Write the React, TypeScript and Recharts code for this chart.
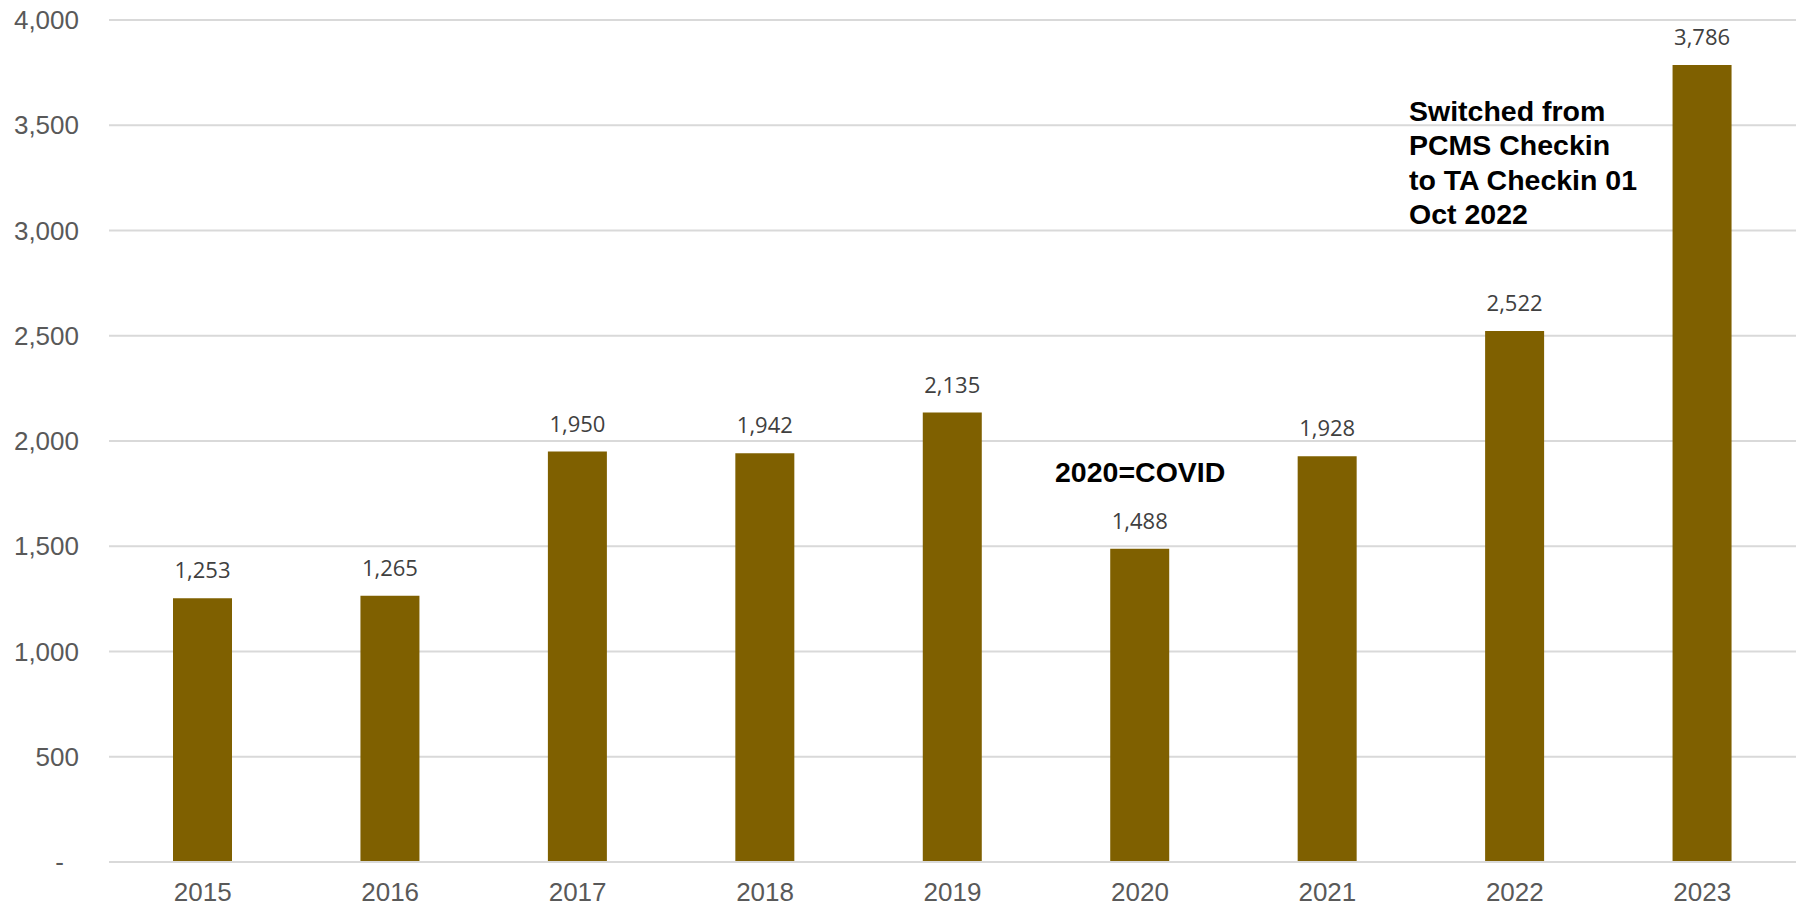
import { BarChart, Bar, XAxis, YAxis, CartesianGrid, LabelList } from 'recharts';

const years = ['2015', '2016', '2017', '2018', '2019', '2020', '2021', '2022', '2023'];
const checkins = [1253, 1265, 1950, 1942, 2135, 1488, 1928, 2522, 3786];
const yTicks = [0, 500, 1000, 1500, 2000, 2500, 3000, 3500, 4000];
const covidNote = '2020=COVID';
const switchNote = ['Switched from', 'PCMS Checkin', 'to TA Checkin 01', 'Oct 2022'];

const data = years.map((year, i) => ({ year, value: checkins[i] }));

const fmt = (v: number) => v.toLocaleString('en-US');

const YTick = (props: any) => {
  const { x, y, payload } = props;
  const v = payload.value;
  return (
    <text
      x={v === 0 ? x - 15 : x}
      y={y}
      dy="0.355em"
      textAnchor="end"
      fill="#595959"
      fontSize={26}
      fontFamily="'Liberation Sans', Arial, sans-serif"
    >
      {v === 0 ? '-' : fmt(v)}
    </text>
  );
};

export default function App() {
  return (
    <div style={{ position: 'absolute', left: 0, top: 0, width: 1803, height: 908, background: '#fff' }}>
      <BarChart
        width={1803}
        height={908}
        data={data}
        margin={{ top: 20, right: 7, left: 0, bottom: 0 }}
      >
        <CartesianGrid vertical={false} stroke="#d9d9d9" strokeWidth={2} />
        <XAxis
          dataKey="year"
          height={46}
          tickLine={false}
          tickSize={0}
          tickMargin={21}
          axisLine={{ stroke: '#d9d9d9', strokeWidth: 2 }}
          tick={{ fill: '#595959', fontSize: 26, fontFamily: "'Liberation Sans', Arial, sans-serif" }}
        />
        <YAxis
          width={109}
          domain={[0, 4000]}
          ticks={yTicks}
          axisLine={false}
          tickLine={false}
          tickSize={0}
          tickMargin={30}
          tick={<YTick />}
        />
        <Bar dataKey="value" fill="#7f6000" barSize={59} isAnimationActive={false}>
          <LabelList
            dataKey="value"
            position="top"
            offset={20}
            formatter={(v: any) => fmt(Number(v))}
            fill="#404040"
            fontSize={22}
            fontFamily="'Open Sans', sans-serif"
          />
        </Bar>
      </BarChart>
      <svg
        width={1803}
        height={908}
        style={{ position: 'absolute', left: 0, top: 0, pointerEvents: 'none' }}
      >
        <g fontFamily="'Liberation Sans', Arial, sans-serif" fontWeight="bold" fontSize={28.5} fill="#000">
          <text x={1055} y={482}>{covidNote}</text>
          {switchNote.map((line, i) => (
            <text key={line} x={1409} y={120.5 + i * 34.5}>{line}</text>
          ))}
        </g>
      </svg>
    </div>
  );
}
